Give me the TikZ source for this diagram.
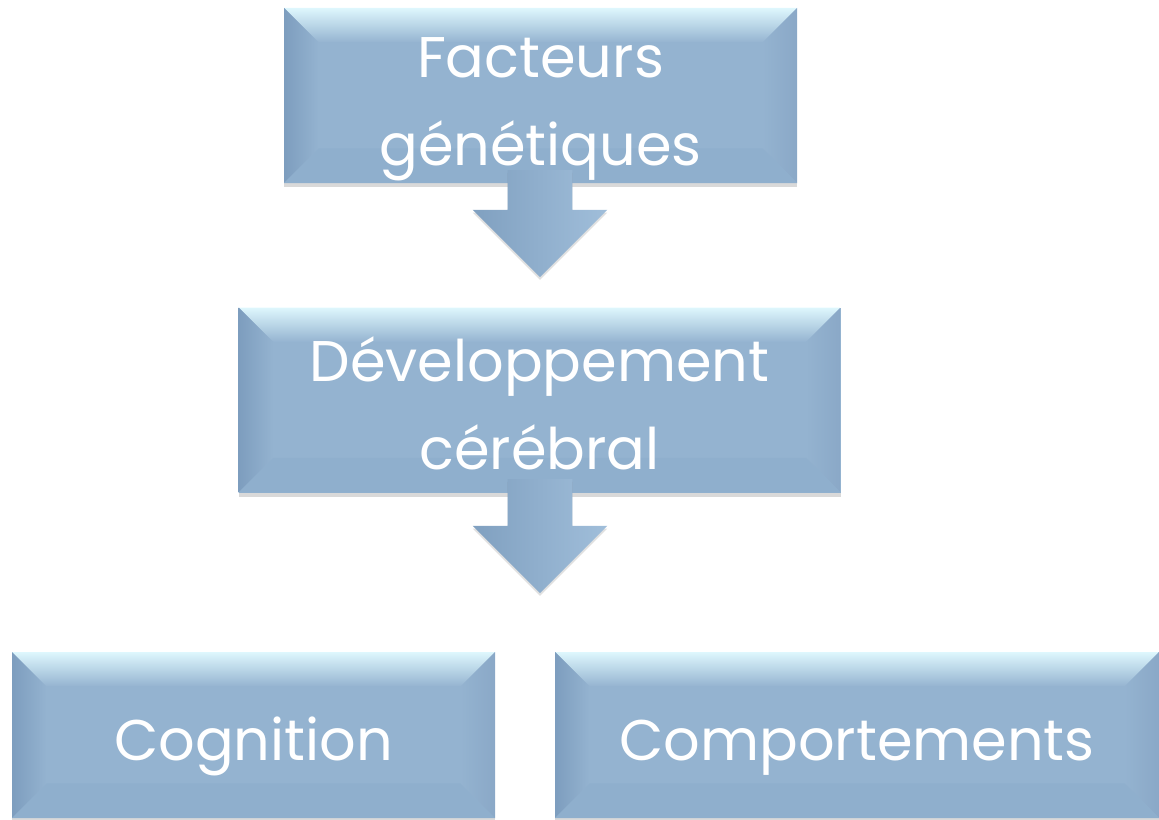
\documentclass[tikz,border=0pt]{standalone}
\usepackage{fontspec}
\setmainfont{Poppins}
\usetikzlibrary{shapes.arrows,shadows}

\definecolor{boxblue}{RGB}{148,179,208}
\definecolor{bevtop}{RGB}{222,247,253}
\definecolor{bevleft}{RGB}{125,157,190}
\definecolor{bevright}{RGB}{138,168,199}
\definecolor{bevbot}{RGB}{143,175,205}
\definecolor{arrdark}{RGB}{128,160,192}
\definecolor{arrlight}{RGB}{160,190,218}

\tikzset{
	bevelbox/.style={rectangle, fill=boxblue, text=white, align=center, inner sep=0pt,
		font=\fontsize{43}{66}\selectfont,
		drop shadow={shadow xshift=0pt, shadow yshift=-3pt, opacity=0.25, fill=black!60},
		path picture={
			\def\bw{26pt}
			\coordinate (pnw) at (path picture bounding box.north west);
			\coordinate (pne) at (path picture bounding box.north east);
			\coordinate (psw) at (path picture bounding box.south west);
			\coordinate (pse) at (path picture bounding box.south east);
			\shade[top color=bevtop, bottom color=boxblue]
			(pnw) -- (pne) -- ([shift={(-\bw,-\bw)}]pne) -- ([shift={(\bw,-\bw)}]pnw) -- cycle;
			\shade[left color=bevleft, right color=boxblue]
			(pnw) -- ([shift={(\bw,-\bw)}]pnw) -- ([shift={(\bw,\bw)}]psw) -- (psw) -- cycle;
			\shade[left color=boxblue, right color=bevright]
			(pne) -- ([shift={(-\bw,-\bw)}]pne) -- ([shift={(-\bw,\bw)}]pse) -- (pse) -- cycle;
			\fill[bevbot]
			(psw) -- ([shift={(\bw,\bw)}]psw) -- ([shift={(-\bw,\bw)}]pse) -- (pse) -- cycle;
		}},
	twolines/.style={text height=104.5pt, text depth=0pt},
	oneline/.style={text height=37.5pt, text depth=0pt},
	downarrow/.style={single arrow, rotate=-90, inner xsep=0pt, inner ysep=24pt,
		single arrow head extend=26.25pt,
		left color=arrdark, right color=arrlight,
		drop shadow={shadow xshift=0pt, shadow yshift=-2pt, opacity=0.2, fill=black!60}},
}

\begin{document}
\begin{tikzpicture}[x=0.75pt, y=-0.75pt]
	\useasboundingbox (0,0) rectangle (1159,820);
	
	% boxes
	\node[bevelbox, twolines, minimum width=384.75pt, minimum height=131.25pt] (genes) at (540.5,95.5) {Facteurs\\génétiques};
	\node[bevelbox, twolines, minimum width=451.5pt, minimum height=138.75pt] (cerveau) at (539.5,400) {Développement\\cérébral};
	\node[bevelbox, oneline, minimum width=362.25pt, minimum height=124.5pt] (cognition) at (253.5,735) {Cognition};
	\node[bevelbox, oneline, minimum width=453pt, minimum height=124.5pt] (comport) at (857,735) {Comportements};
	
	% arrows
	\node[downarrow, minimum height=80.25pt] (arr1) at (540,207.5) {};
	\node[downarrow, minimum height=85.5pt] (arr2) at (540,520) {};
\end{tikzpicture}
\end{document}
